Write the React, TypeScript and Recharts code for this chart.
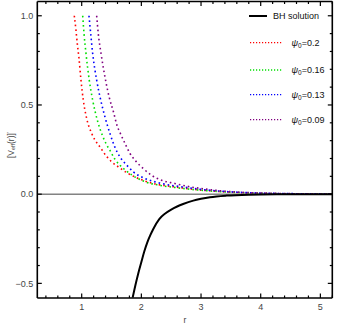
import React from 'react';
import { LineChart, Line, XAxis, YAxis, ReferenceLine, Legend } from 'recharts';

// ---------- data ----------
const bhR = [1.854, 1.9, 1.948, 2.0, 2.05, 2.1, 2.15, 2.2, 2.3, 2.4, 2.5, 2.6, 2.7, 2.87, 3.0, 3.15, 3.43, 3.8, 4.3, 5.2];
const bhV = [-0.58, -0.51, -0.444, -0.38, -0.32, -0.27, -0.23, -0.195, -0.14, -0.108, -0.086, -0.069, -0.055, -0.036, -0.026, -0.017, -0.008, -0.003, -0.001, 0];

const redR = [0.876, 0.904, 0.926, 0.955, 0.988, 1.027, 1.084, 1.168, 1.224, 1.307, 1.362, 1.503, 1.614, 1.78, 1.95, 2.2, 2.51, 2.8, 3.1, 3.5, 4.0, 4.5, 5.2];
const redV = [1.0, 0.919, 0.845, 0.761, 0.639, 0.527, 0.424, 0.34, 0.303, 0.265, 0.237, 0.181, 0.153, 0.116, 0.088, 0.06, 0.043, 0.03, 0.02, 0.011, 0.005, 0.002, 0.001];

const greenR = [1.017, 1.039, 1.072, 1.127, 1.184, 1.262, 1.352, 1.43, 1.474, 1.558, 1.7, 1.84, 2.06, 2.3, 2.6, 3.0, 3.5, 4.0, 4.5, 5.2];
const greenV = [1.0, 0.9, 0.789, 0.639, 0.527, 0.415, 0.325, 0.27, 0.245, 0.195, 0.144, 0.108, 0.07, 0.05, 0.036, 0.022, 0.011, 0.005, 0.002, 0.001];

const blueR = [1.122, 1.151, 1.184, 1.251, 1.319, 1.39, 1.474, 1.558, 1.642, 1.754, 1.865, 2.06, 2.34, 2.7, 3.0, 3.5, 4.0, 4.5, 5.2];
const blueV = [1.0, 0.9, 0.789, 0.639, 0.527, 0.433, 0.34, 0.262, 0.209, 0.163, 0.125, 0.088, 0.06, 0.04, 0.027, 0.013, 0.006, 0.003, 0.001];

const purpleR = [1.251, 1.278, 1.324, 1.4, 1.46, 1.54, 1.587, 1.642, 1.726, 1.81, 1.894, 2.03, 2.17, 2.34, 2.56, 2.82, 3.0, 3.3, 3.7, 4.2, 4.7, 5.2];
const purpleV = [1.0, 0.9, 0.789, 0.639, 0.545, 0.452, 0.39, 0.345, 0.284, 0.228, 0.19, 0.144, 0.106, 0.078, 0.06, 0.041, 0.032, 0.02, 0.01, 0.005, 0.002, 0.001];

const xTicks = [0.4, 0.6, 0.8, 1, 1.2, 1.4, 1.6, 1.8, 2, 2.2, 2.4, 2.6, 2.8, 3, 3.2, 3.4, 3.6, 3.8, 4, 4.2, 4.4, 4.6, 4.8, 5, 5.2];
const xMajor = [1, 2, 3, 4, 5];
const xMajorLabels = ['1', '2', '3', '4', '5'];
const yTicks = [-0.5, -0.4, -0.3, -0.2, -0.1, 0, 0.1, 0.2, 0.3, 0.4, 0.5, 0.6, 0.7, 0.8, 0.9, 1.0];
const yMajor = [-0.5, 0, 0.5, 1.0];
const yMajorLabels = ['−0.5', '0.0', '0.5', '1.0'];

const seriesNames = ['0.2', '0.16', '0.13', '0.09'];
const seriesColors = ['#ff0000', '#00e000', '#0000ff', '#800080'];

const xDomain = [0.256, 5.2];
const yDomain = [-0.582, 1.08];

const FONT = '"Liberation Sans", Arial, sans-serif';

const toPts = (rs: number[], vs: number[]) => rs.map((r, i) => ({ x: r, y: vs[i] }));
const bhData = toPts(bhR, bhV);
const dottedData = [toPts(redR, redV), toPts(greenR, greenV), toPts(blueR, blueV), toPts(purpleR, purpleV)];

const majorIndex = (list: number[], v: number) => list.findIndex((m) => Math.abs(m - Number(v)) < 1e-6);

const BottomTick = (props: any) => {
  const { x, y, payload } = props;
  const idx = majorIndex(xMajor, payload.value);
  const major = idx >= 0;
  return (
    <g>
      <line x1={x} x2={x} y1={y} y2={y - (major ? 4.5 : 2.5)} stroke="#000" strokeWidth={1.2} />
      {major ? (
        <text x={x} y={y + 12} textAnchor="middle" fontSize={9} fill="#444" fontFamily={FONT}>
          {xMajorLabels[idx]}
        </text>
      ) : null}
    </g>
  );
};

const TopTick = (props: any) => {
  const { x, y, payload } = props;
  const major = majorIndex(xMajor, payload.value) >= 0;
  return <line x1={x} x2={x} y1={y} y2={y + (major ? 4.5 : 2.5)} stroke="#000" strokeWidth={1.2} />;
};

const LeftTick = (props: any) => {
  const { x, y, payload } = props;
  const idx = majorIndex(yMajor, payload.value);
  const major = idx >= 0;
  return (
    <g>
      <line x1={x} x2={x + (major ? 4.5 : 2.5)} y1={y} y2={y} stroke="#000" strokeWidth={1.2} />
      {major ? (
        <text x={x - 4} y={y + 3.2} textAnchor="end" fontSize={9} fill="#444" fontFamily={FONT}>
          {yMajorLabels[idx]}
        </text>
      ) : null}
    </g>
  );
};

const RightTick = (props: any) => {
  const { x, y, payload } = props;
  const major = majorIndex(yMajor, payload.value) >= 0;
  return <line x1={x} x2={x - (major ? 4.5 : 2.5)} y1={y} y2={y} stroke="#000" strokeWidth={1.2} />;
};

const YLabel = () => (
  <text
    x={13.5}
    y={145}
    transform="rotate(-90, 13.5, 145)"
    textAnchor="middle"
    fontSize={8.5}
    fill="#444"
    fontFamily={FONT}
  >
    [V<tspan fontSize={5.5} dy={1.5}>eff</tspan>
    <tspan dy={-1.5}>(r)]</tspan>
    <tspan fontSize={6} dy={-3}>′</tspan>
  </text>
);

const XLabel = () => (
  <text x={185} y={323} textAnchor="middle" fontSize={8.5} fill="#444" fontFamily={FONT}>
    r
  </text>
);

const legendRowsY = [42.7, 70, 94.7, 119.7];

const LegendContent = () => (
  <svg width={92} height={130} style={{ display: 'block', overflow: 'visible' }}>
    <line x1={4} x2={22} y1={16} y2={16} stroke="#000" strokeWidth={2} />
    <text x={28} y={19.2} fontSize={9} fill="#111" fontFamily={FONT}>
      BH solution
    </text>
    {seriesNames.map((name, i) => (
      <g key={name}>
        <line
          x1={5}
          x2={38}
          y1={legendRowsY[i]}
          y2={legendRowsY[i]}
          stroke={seriesColors[i]}
          strokeWidth={1.3}
          strokeDasharray="1.2 1.8"
        />
        <text x={46.5} y={legendRowsY[i] + 3.2} fontSize={9} fill="#111" fontFamily={FONT}>
          <tspan fontStyle="italic">ψ</tspan>
          <tspan fontSize={6.5} dy={2}>0</tspan>
          <tspan dy={-2}>={name}</tspan>
        </text>
      </g>
    ))}
  </svg>
);

const axisLineStyle = { stroke: '#000', strokeWidth: 1.6 };

export default function App() {
  return (
    <div style={{ position: 'absolute', left: 0, top: 0, width: 337, height: 328, background: '#fff' }}>
      <LineChart width={337} height={328} margin={{ top: 0.5, right: 3.7, bottom: 29, left: 36.3 }}>
        <XAxis
          dataKey="x"
          type="number"
          domain={xDomain}
          allowDataOverflow
          ticks={xTicks}
          interval={0}
          height={1}
          tickSize={0}
          tickMargin={0}
          tickLine={false}
          axisLine={axisLineStyle}
          tick={<BottomTick />}
          label={<XLabel />}
        />
        <XAxis
          xAxisId="top"
          orientation="top"
          dataKey="x"
          type="number"
          domain={xDomain}
          allowDataOverflow
          ticks={xTicks}
          interval={0}
          height={1}
          tickSize={0}
          tickMargin={0}
          tickLine={false}
          axisLine={axisLineStyle}
          tick={<TopTick />}
        />
        <YAxis
          type="number"
          domain={yDomain}
          allowDataOverflow
          ticks={yTicks}
          interval={0}
          width={1}
          tickSize={0}
          tickMargin={0}
          tickLine={false}
          axisLine={axisLineStyle}
          tick={<LeftTick />}
          label={<YLabel />}
        />
        <YAxis
          yAxisId="right"
          orientation="right"
          type="number"
          domain={yDomain}
          allowDataOverflow
          ticks={yTicks}
          interval={0}
          width={1}
          tickSize={0}
          tickMargin={0}
          tickLine={false}
          axisLine={axisLineStyle}
          tick={<RightTick />}
        />
        <ReferenceLine y={0} stroke="#444" strokeWidth={1} />
        {dottedData.map((d, i) => (
          <Line
            key={seriesNames[i]}
            data={d}
            dataKey="y"
            type="monotone"
            stroke={seriesColors[i]}
            strokeWidth={1.6}
            strokeDasharray="1.6 3"
            dot={false}
            activeDot={false}
            isAnimationActive={false}
          />
        ))}
        <Line
          data={bhData}
          dataKey="y"
          type="monotone"
          stroke="#000"
          strokeWidth={2}
          dot={false}
          activeDot={false}
          isAnimationActive={false}
        />
        <Legend
          layout="vertical"
          align="center"
          verticalAlign="middle"
          wrapperStyle={{ position: 'absolute', left: 245, top: 0, width: 92, height: 130, margin: 0, padding: 0 }}
          content={() => <LegendContent />}
        />
      </LineChart>
    </div>
  );
}
